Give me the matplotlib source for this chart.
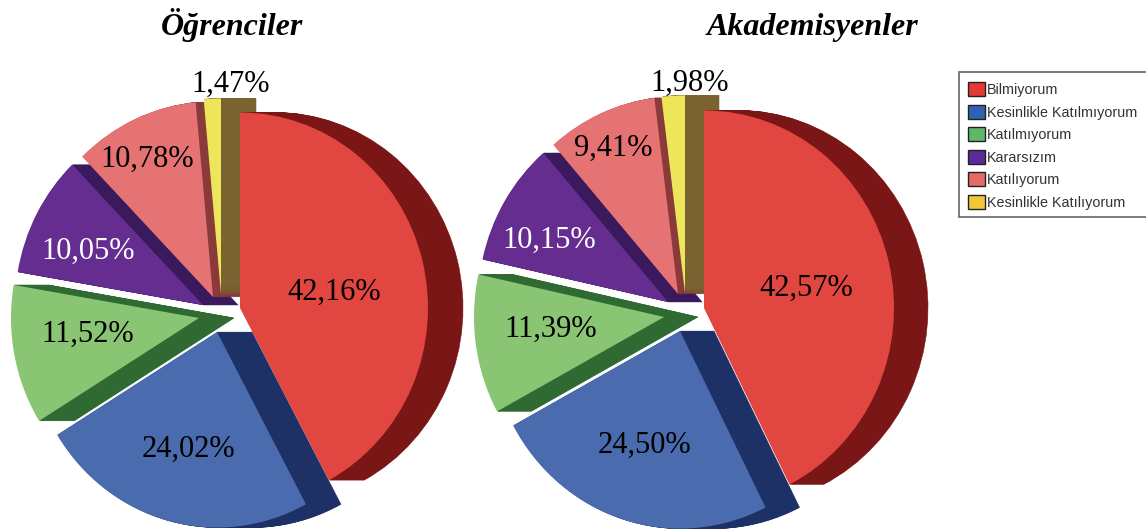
import matplotlib
matplotlib.use("Agg")
import matplotlib.pyplot as plt
from matplotlib.patches import Wedge, Patch, Rectangle

categories = ["Bilmiyorum", "Kesinlikle Katılmıyorum", "Katılmıyorum",
              "Kararsızım", "Katılıyorum", "Kesinlikle Katılıyorum"]
ogrenciler = [42.16, 24.02, 11.52, 10.05, 10.78, 1.47]
akademisyenler = [42.57, 24.50, 11.39, 10.15, 9.41, 1.98]
titles = ["Öğrenciler", "Akademisyenler"]

top_colors = ["#E24640", "#4A6BAE", "#8AC574", "#662D91", "#E57373", "#EDE65A"]
dark_colors = ["#7A1616", "#1E3166", "#2F6A33", "#3A1A5C", "#8A3A3A", "#7A6330"]
legend_colors = ["#E53935", "#2F62B0", "#5DB868", "#5B2A9A", "#E56A6A", "#F2C73A"]
text_colors = ["black", "black", "black", "white", "black", "black"]

W, H = 1146, 532
YS = 1.04  # the pies in the original are a bit taller than wide

# apex of each slice in picture pixels (the slices are exploded by hand in the original)
apex_left = [(240, 308), (217, 332), (199, 318), (203, 305), (213, 297), (221, 294)]
apex_right = [(704, 308), (680, 331), (664, 317), (668, 302), (678, 294), (685, 293)]

# label centre x and baseline y in picture pixels
labels_left = [(334, 300), (188, 457), (88, 342), (88, 259), (147, 167), (231, 92)]
labels_right = [(806, 296), (644, 453), (551, 337), (549, 248), (613, 156), (690, 91)]


def draw_pie(ax, values, apexes, label_pos, title, title_x, radius, depth):
    # angles go clockwise from 12 o'clock
    start = 90.0
    spans = []
    for v in values:
        end = start - v * 3.6
        spans.append((end, start))
        start = end

    # red goes last so it sits on top of the yellow slice's side
    for i in [1, 2, 3, 4, 5, 0]:
        x, y = apexes[i]
        y = (H - y) / YS
        t1, t2 = spans[i]
        for dx in range(depth, 0, -1):
            ax.add_patch(Wedge((x + dx, y), radius, t1, t2, fc=dark_colors[i],
                               ec=dark_colors[i], lw=0.4))
        ax.add_patch(Wedge((x, y), radius, t1, t2, fc=top_colors[i], ec="none"))

    for i, v in enumerate(values):
        txt = f"{v:.2f}%".replace(".", ",")
        ax.text(label_pos[i][0], (H - label_pos[i][1]) / YS, txt, color=text_colors[i],
                ha="center", va="baseline", fontsize=22, family="Liberation Serif",
                zorder=5)

    ax.text(title_x, (H - 35) / YS, title, ha="center", va="baseline", fontsize=23,
            family="Liberation Serif", style="italic", weight="bold", zorder=5)


fig = plt.figure(figsize=(W / 100, H / 100), dpi=100)
ax = fig.add_axes([0, 0, 1, 1])
ax.set_xlim(0, W)
ax.set_ylim(0, H / YS)
ax.axis("off")

draw_pie(ax, ogrenciler, apex_left, labels_left, titles[0], 232, 188, 35)
draw_pie(ax, akademisyenler, apex_right, labels_right, titles[1], 813, 190, 34)

# legend box runs off the right edge of the picture
ax.add_patch(Rectangle((959, (H - 217) / YS), 200, 145 / YS, fc="white", ec="#666666",
                       lw=1.2, zorder=6))
handles = [Patch(fc=c, ec="#222222", lw=1) for c in legend_colors]
leg = ax.legend(handles, categories, loc="upper left",
                bbox_to_anchor=(959 / W, 1 - 73.5 / H), bbox_transform=fig.transFigure,
                frameon=False, labelcolor="#333333",
                prop={"family": "Liberation Sans", "size": 10.4},
                handlelength=1.18, handleheight=1.1, handletextpad=0.14,
                labelspacing=0.53, borderpad=0.6, borderaxespad=0)
leg.set_zorder(7)

fig.savefig("out.png", dpi=100)
